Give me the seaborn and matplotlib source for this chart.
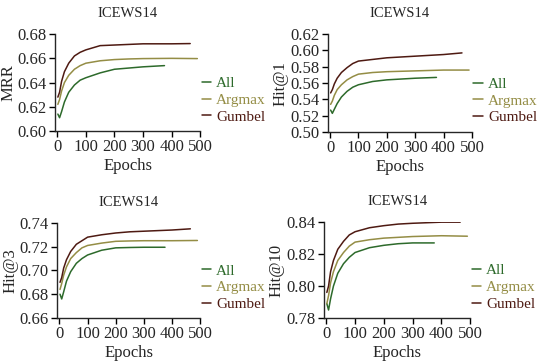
"""
Training curves on ICEWS14 for the All / Argmax / Gumbel variants,
four metrics (MRR, Hit@1, Hit@3, Hit@10) in a 2x2 grid.
"""

import pandas as pd
import matplotlib
matplotlib.use("Agg")
import matplotlib.pyplot as plt
import seaborn as sns

epochs_all = [2, 8, 15, 25, 40, 60, 80, 100, 150, 200, 250, 300, 375]
epochs_argmax = [2, 8, 15, 25, 40, 60, 80, 100, 150, 200, 250, 300, 400, 490]
epochs_gumbel = [2, 8, 15, 25, 40, 60, 80, 100, 150, 200, 250, 300, 400, 465]

# MRR
mrr_all = [0.614, 0.611, 0.616, 0.624, 0.632, 0.638, 0.642, 0.644, 0.648,
           0.651, 0.652, 0.653, 0.654]
mrr_argmax = [0.622, 0.626, 0.633, 0.640, 0.646, 0.651, 0.654, 0.656, 0.658,
              0.659, 0.6595, 0.6598, 0.660, 0.6598]
mrr_gumbel = [0.628, 0.632, 0.641, 0.649, 0.656, 0.662, 0.665, 0.667, 0.6705,
              0.671, 0.6715, 0.672, 0.672, 0.6722]

# Hit@1
hit1_all = [0.527, 0.523, 0.528, 0.535, 0.543, 0.550, 0.555, 0.558, 0.562,
            0.564, 0.565, 0.566, 0.567]
hit1_argmax = [0.534, 0.538, 0.545, 0.552, 0.558, 0.564, 0.568, 0.571, 0.573,
               0.574, 0.5745, 0.575, 0.576, 0.576]
hit1_gumbel = [0.548, 0.552, 0.559, 0.566, 0.573, 0.579, 0.584, 0.587, 0.589,
               0.591, 0.592, 0.593, 0.595, 0.597]

# Hit@3
hit3_all = [0.680, 0.676, 0.682, 0.691, 0.699, 0.706, 0.710, 0.713, 0.717,
            0.719, 0.7193, 0.7195, 0.7195]
hit3_argmax = [0.684, 0.689, 0.696, 0.703, 0.710, 0.715, 0.719, 0.721, 0.723,
               0.7245, 0.7248, 0.725, 0.725, 0.7252]
hit3_gumbel = [0.690, 0.694, 0.702, 0.709, 0.716, 0.722, 0.725, 0.728, 0.730,
               0.7315, 0.7325, 0.733, 0.734, 0.735]

# Hit@10
hit10_all = [0.789, 0.785, 0.792, 0.800, 0.808, 0.814, 0.818, 0.821, 0.824,
             0.8255, 0.8265, 0.827, 0.827]
hit10_argmax = [0.789, 0.794, 0.802, 0.809, 0.816, 0.821, 0.825, 0.8275, 0.829,
                0.830, 0.8305, 0.831, 0.8315, 0.8312]
hit10_gumbel = [0.796, 0.800, 0.809, 0.816, 0.823, 0.828, 0.832, 0.834, 0.8365,
                0.8378, 0.8388, 0.8393, 0.840, 0.840]

methods = ["All", "Argmax", "Gumbel"]
colors = {"All": "#2d6a2b", "Argmax": "#948d45", "Gumbel": "#4e1a12"}

panels = [
    ("MRR", [mrr_all, mrr_argmax, mrr_gumbel], (0.60, 0.68), [0.60, 0.62, 0.64, 0.66, 0.68]),
    ("Hit@1", [hit1_all, hit1_argmax, hit1_gumbel], (0.50, 0.62),
     [0.50, 0.52, 0.54, 0.56, 0.58, 0.60, 0.62]),
    ("Hit@3", [hit3_all, hit3_argmax, hit3_gumbel], (0.66, 0.74), [0.66, 0.68, 0.70, 0.72, 0.74]),
    ("Hit@10", [hit10_all, hit10_argmax, hit10_gumbel], (0.78, 0.84), [0.78, 0.80, 0.82, 0.84]),
]

# axes rectangles [left, bottom, width, height] in figure fraction
rects = [
    [0.100, 0.639, 0.264, 0.267],
    [0.596, 0.636, 0.262, 0.270],
    [0.104, 0.124, 0.260, 0.262],
    [0.589, 0.124, 0.266, 0.264],
]

sns.set_style("ticks")
plt.rcParams["font.family"] = ["Liberation Serif", "DejaVu Serif"]
plt.rcParams["axes.linewidth"] = 1.0

fig = plt.figure(figsize=(5.5, 3.63), dpi=100)

for (metric, series, ylim, yticks), rect in zip(panels, rects):
    ax = fig.add_axes(rect)
    epoch_lists = [epochs_all, epochs_argmax, epochs_gumbel]
    frames = []
    for name, ep, vals in zip(methods, epoch_lists, series):
        frames.append(pd.DataFrame({"Epochs": ep, metric: vals, "Method": name}))
    df = pd.concat(frames, ignore_index=True)

    sns.lineplot(data=df, x="Epochs", y=metric, hue="Method", palette=colors,
                 hue_order=methods, linewidth=1.1, ax=ax)

    ax.set_xlim(-8, 500)
    ax.set_ylim(*ylim)
    ax.set_xticks([0, 100, 200, 300, 400, 500])
    ax.set_yticks(yticks)
    ax.set_yticklabels([f"{t:.2f}" for t in yticks])
    ax.tick_params(axis="both", labelsize=12, length=4, width=1, pad=2, color="black")
    ax.set_title("ICEWS14", fontsize=10.5, pad=12)
    ax.set_xlabel("Epochs", fontsize=12, labelpad=2)
    ax.set_ylabel(metric, fontsize=12, labelpad=1)
    sns.despine(ax=ax)

    leg = ax.legend(loc="center left", bbox_to_anchor=(1.0, 0.32), frameon=False,
                    fontsize=11, handlelength=0.6, handletextpad=0.35,
                    labelspacing=0.2, borderaxespad=0.0, borderpad=0.1)
    for text, name in zip(leg.get_texts(), methods):
        text.set_color(colors[name])

fig.savefig("out.png", dpi=100)
